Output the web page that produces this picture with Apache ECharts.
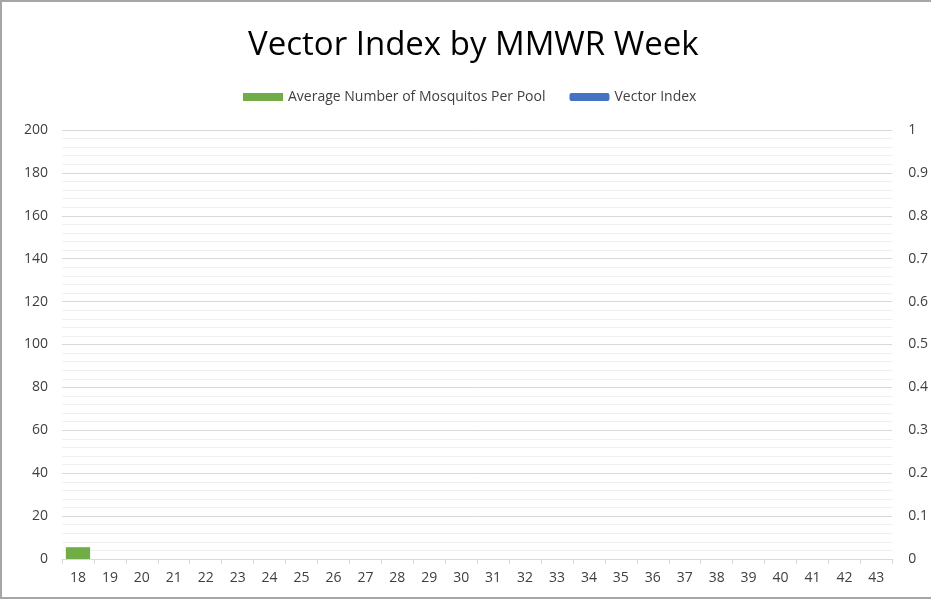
<!DOCTYPE html>
<html lang="en">
    <head>
        <meta charset="UTF-8">
        <title>Vector Index by MMWR Week</title>
        <script src="https://cdn.jsdelivr.net/npm/echarts@6/dist/echarts.min.js"></script>
        <style>
            html, body { margin: 0; padding: 0; background: #fff; }
            #chart { position: absolute; left: 0; top: 0; width: 929px; height: 595px;
                     border: 2px solid #a6a6a6; border-right: none; background: #fff; }
        </style>
    </head>
    <body>
        <div id="chart"></div>
        <script>
            // MMWR weeks
            var weeks = ['18', '19', '20', '21', '22', '23', '24', '25', '26', '27', '28', '29', '30',
                         '31', '32', '33', '34', '35', '36', '37', '38', '39', '40', '41', '42', '43'];
            // average number of mosquitos per pool (only week 18 reported)
            var avgMosquitos = [5.5, null, null, null, null, null, null, null, null, null, null, null, null,
                                null, null, null, null, null, null, null, null, null, null, null, null, null];
            // vector index (nothing reported)
            var vectorIndex = [null, null, null, null, null, null, null, null, null, null, null, null, null,
                               null, null, null, null, null, null, null, null, null, null, null, null, null];

            var font = 'Open Sans';
            var myChart = echarts.init(document.getElementById('chart'));
            var option = {
                animation: false,
                title: {
                    text: 'Vector Index by MMWR Week',
                    left: 241,
                    top: 22,
                    textStyle: { fontFamily: font, fontSize: 33, fontWeight: 'normal', color: '#000' }
                },
                legend: {
                    top: 83,
                    left: 236,
                    itemGap: 24,
                    itemWidth: 40,
                    itemHeight: 8,
                    textStyle: { fontFamily: font, fontSize: 14, color: '#404040' },
                    data: [
                        { name: 'Average Number of Mosquitos Per Pool', icon: 'rect' },
                        { name: 'Vector Index', icon: 'roundRect' }
                    ]
                },
                grid: { left: 60, right: 38, top: 128, bottom: 38 },
                xAxis: {
                    type: 'category',
                    data: weeks,
                    axisLine: { lineStyle: { color: '#d9d9d9' } },
                    axisTick: { show: true, alignWithLabel: false, lineStyle: { color: '#d9d9d9' } },
                    axisLabel: { fontFamily: font, fontSize: 14, color: '#404040', margin: 12 }
                },
                yAxis: [
                    {
                        type: 'value', min: 0, max: 200, interval: 20,
                        axisLine: { show: false }, axisTick: { show: false },
                        axisLabel: { fontFamily: font, fontSize: 14, color: '#404040', margin: 14 },
                        splitLine: { lineStyle: { color: '#d9d9d9' } },
                        minorTick: { show: false, splitNumber: 5 },
                        minorSplitLine: { show: true, lineStyle: { color: '#f0f0f0' } }
                    },
                    {
                        type: 'value', min: 0, max: 1, interval: 0.1,
                        axisLine: { show: false }, axisTick: { show: false },
                        axisLabel: { fontFamily: font, fontSize: 14, color: '#404040', margin: 16 },
                        splitLine: { show: false }
                    }
                ],
                series: [
                    {
                        name: 'Average Number of Mosquitos Per Pool',
                        type: 'bar',
                        data: avgMosquitos,
                        barWidth: '76%',
                        itemStyle: { color: '#70ad47' }
                    },
                    {
                        name: 'Vector Index',
                        type: 'line',
                        yAxisIndex: 1,
                        data: vectorIndex,
                        showSymbol: false,
                        itemStyle: { color: '#4472c4' },
                        lineStyle: { color: '#4472c4', width: 3 }
                    }
                ]
            };
            myChart.setOption(option);
        </script>
    </body>
</html>
